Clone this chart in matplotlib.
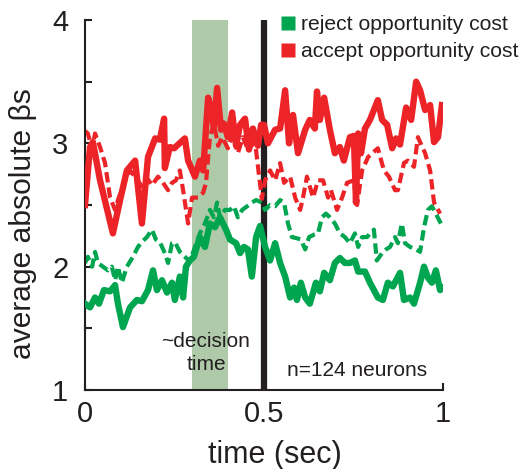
import matplotlib
matplotlib.use("Agg")
import matplotlib.pyplot as plt
from matplotlib.lines import Line2D
from matplotlib.ticker import MultipleLocator, NullFormatter

plt.rcParams['font.family'] = ['Liberation Sans', 'DejaVu Sans']

# values
t_acc = [0.000, 0.014, 0.022, 0.042, 0.078, 0.098, 0.117, 0.140, 0.159, 0.176,
         0.196, 0.209, 0.221, 0.223, 0.237, 0.249, 0.279, 0.288, 0.307, 0.321,
         0.330, 0.344, 0.352, 0.360, 0.369, 0.380, 0.388, 0.399, 0.411, 0.422,
         0.433, 0.447, 0.458, 0.469, 0.483, 0.492, 0.500, 0.511, 0.531, 0.545,
         0.559, 0.570, 0.581, 0.595, 0.615, 0.628, 0.642, 0.648, 0.656, 0.668,
         0.684, 0.698, 0.712, 0.723, 0.740, 0.751, 0.757, 0.763, 0.771, 0.782,
         0.796, 0.818, 0.830, 0.844, 0.858, 0.869, 0.880, 0.897, 0.911, 0.925,
         0.936, 0.950, 0.964, 0.975, 0.986, 0.997]
acc_solid = [2.50, 2.97, 3.01, 2.70, 2.27, 2.54, 2.78, 2.86, 2.35, 2.89,
             3.04, 3.03, 3.20, 2.80, 2.97, 2.96, 3.04, 2.86, 2.73, 2.86,
             2.78, 3.37, 3.29, 3.13, 3.45, 3.11, 3.16, 3.05, 3.25, 2.98,
             3.15, 3.20, 2.95, 3.12, 2.98, 3.15, 3.15, 3.00, 3.11, 3.12,
             3.43, 3.00, 3.23, 2.92, 3.11, 3.19, 3.12, 3.42, 3.19, 3.37,
             3.11, 2.92, 2.97, 2.86, 3.05, 3.06, 2.52, 3.08, 2.92, 3.12,
             3.19, 3.35, 3.19, 3.15, 2.96, 3.04, 2.99, 3.29, 3.19, 3.50,
             3.43, 3.27, 3.31, 3.01, 3.05, 3.31]

t_acc_d = [0.000, 0.008, 0.020, 0.028, 0.042, 0.056, 0.070, 0.084, 0.092, 0.109,
           0.126, 0.142, 0.159, 0.173, 0.187, 0.204, 0.218, 0.232, 0.243, 0.254,
           0.265, 0.274, 0.288, 0.299, 0.316, 0.330, 0.338, 0.349, 0.360, 0.372,
           0.383, 0.399, 0.413, 0.427, 0.441, 0.455, 0.475, 0.494, 0.503, 0.517,
           0.531, 0.545, 0.556, 0.573, 0.587, 0.601, 0.609, 0.620, 0.637, 0.651,
           0.665, 0.679, 0.687, 0.704, 0.718, 0.732, 0.751, 0.760, 0.774, 0.791,
           0.818, 0.835, 0.849, 0.866, 0.874, 0.891, 0.902, 0.919, 0.930, 0.950,
           0.964, 0.975, 0.992]
acc_dash = [3.10, 3.08, 2.95, 3.08, 2.97, 2.84, 2.56, 2.46, 2.54, 2.68,
            2.78, 2.72, 2.65, 2.72, 2.66, 2.73, 2.68, 2.62, 2.68, 2.70,
            2.78, 2.62, 2.35, 2.56, 2.56, 2.60, 2.68, 3.05, 3.16, 2.98,
            3.05, 2.96, 3.08, 2.92, 3.05, 2.95, 3.01, 2.55, 2.70, 2.78,
            2.70, 2.84, 2.68, 2.73, 2.56, 2.46, 2.56, 2.73, 2.56, 2.70,
            2.70, 2.56, 2.62, 2.46, 2.56, 2.68, 2.70, 2.50, 2.78, 2.89,
            2.96, 2.78, 2.73, 2.62, 2.62, 2.84, 2.86, 2.81, 3.05, 2.92,
            2.78, 2.52, 2.43]

t_rej = [0.000, 0.014, 0.028, 0.039, 0.053, 0.070, 0.084, 0.092, 0.106, 0.126,
         0.145, 0.159, 0.176, 0.190, 0.201, 0.215, 0.229, 0.243, 0.251, 0.265,
         0.274, 0.282, 0.293, 0.304, 0.321, 0.335, 0.349, 0.363, 0.377, 0.394,
         0.405, 0.422, 0.433, 0.444, 0.455, 0.466, 0.478, 0.489, 0.503, 0.517,
         0.531, 0.545, 0.559, 0.573, 0.584, 0.592, 0.603, 0.615, 0.628, 0.645,
         0.656, 0.668, 0.684, 0.698, 0.712, 0.726, 0.740, 0.754, 0.763, 0.782,
         0.796, 0.818, 0.832, 0.846, 0.860, 0.880, 0.891, 0.908, 0.919, 0.936,
         0.947, 0.958, 0.969, 0.980, 0.992, 0.997]
rej_solid = [1.70, 1.67, 1.75, 1.70, 1.81, 1.80, 1.85, 1.70, 1.51, 1.67,
             1.73, 1.72, 1.81, 1.97, 1.81, 1.89, 1.79, 1.87, 1.73, 1.92,
             1.75, 2.00, 2.05, 2.08, 2.24, 2.16, 2.35, 2.32, 2.40, 2.30,
             2.22, 2.19, 2.11, 2.16, 2.14, 1.92, 2.24, 2.33, 2.16, 2.05,
             2.19, 2.03, 1.92, 1.75, 1.83, 1.73, 1.87, 1.75, 1.70, 1.87,
             1.80, 1.95, 1.89, 2.03, 2.07, 2.03, 2.03, 2.05, 1.96, 1.96,
             1.87, 1.75, 1.73, 1.87, 1.84, 1.95, 1.73, 1.75, 1.70, 1.87,
             2.00, 1.91, 1.87, 1.97, 1.81, 1.83]

t_rej_d = [0.000, 0.008, 0.020, 0.028, 0.036, 0.050, 0.064, 0.075, 0.084, 0.092,
           0.103, 0.117, 0.134, 0.148, 0.159, 0.173, 0.187, 0.198, 0.209, 0.223,
           0.232, 0.243, 0.251, 0.265, 0.279, 0.293, 0.307, 0.321, 0.335, 0.349,
           0.360, 0.369, 0.377, 0.391, 0.405, 0.416, 0.427, 0.439, 0.453, 0.466,
           0.478, 0.494, 0.503, 0.517, 0.531, 0.545, 0.556, 0.567, 0.578, 0.592,
           0.603, 0.615, 0.626, 0.640, 0.651, 0.662, 0.673, 0.684, 0.698, 0.712,
           0.726, 0.740, 0.754, 0.763, 0.774, 0.788, 0.796, 0.807, 0.815, 0.830,
           0.841, 0.852, 0.866, 0.874, 0.885, 0.894, 0.908, 0.925, 0.936, 0.947,
           0.958, 0.969, 0.980, 0.994]
rej_dash = [2.03, 2.08, 2.00, 2.12, 2.03, 2.00, 1.97, 2.00, 1.89, 2.00,
            1.87, 2.00, 2.08, 2.16, 2.20, 2.24, 2.30, 2.22, 2.20, 2.11,
            2.03, 2.19, 2.20, 2.12, 2.08, 2.04, 2.16, 2.27, 2.35, 2.46,
            2.40, 2.52, 2.40, 2.46, 2.46, 2.49, 2.40, 2.46, 2.49, 2.52,
            2.54, 2.52, 2.46, 2.50, 2.49, 2.54, 2.52, 2.35, 2.24, 2.23,
            2.22, 2.14, 2.24, 2.26, 2.27, 2.40, 2.43, 2.40, 2.35, 2.27,
            2.24, 2.19, 2.27, 2.16, 2.24, 2.24, 2.27, 2.30, 2.05, 2.11,
            2.14, 2.16, 2.24, 2.19, 2.35, 2.19, 2.16, 2.14, 2.12, 2.32,
            2.46, 2.49, 2.43, 2.35]

decision_window = (0.30, 0.40)
labels = ['reject opportunity cost', 'accept opportunity cost']

red = '#ec2327'
green = '#00a54f'
ink = '#231f20'

fig = plt.figure(figsize=(5.22, 4.69), dpi=100)
ax = fig.add_axes([85/522, 1 - 390/469, 358/522, 370/469])

ax.axvspan(*decision_window, color='#aecaa9', lw=0, zorder=0)
ax.axvline(0.5, color=ink, lw=4.5, zorder=1)

ax.plot(t_rej_d, rej_dash, color=green, lw=3.0, dashes=(2.5, 1.2), zorder=2)
ax.plot(t_acc_d, acc_dash, color=red, lw=3.0, dashes=(2.5, 1.2), zorder=2)
ax.plot(t_rej, rej_solid, color=green, lw=4.6, zorder=3)
ax.plot(t_acc, acc_solid, color=red, lw=4.6, zorder=3)

ax.set_xlim(0, 1)
ax.set_ylim(1, 4)
ax.set_xticks([0, 0.5, 1])
ax.set_xticklabels(['0', '0.5', '1'])
ax.set_yticks([1, 2, 3, 4])
ax.yaxis.set_minor_locator(MultipleLocator(0.5))
ax.yaxis.set_minor_formatter(NullFormatter())
for s in ['top', 'right']:
    ax.spines[s].set_visible(False)
for s in ['left', 'bottom']:
    ax.spines[s].set_linewidth(1.5)
    ax.spines[s].set_color(ink)
ax.tick_params(axis='both', which='both', direction='in', length=5, width=1.5,
               color=ink, labelcolor=ink, labelsize=21)
ax.tick_params(axis='y', pad=12)
ax.tick_params(axis='x', pad=7)

ax.set_xlabel('time (sec)', fontsize=22, color=ink)
ax.xaxis.set_label_coords(0.531, -0.135)
ax.set_ylabel('average absolute βs', fontsize=21.6, color=ink)
ax.yaxis.set_label_coords(-0.134, 0.451)

ax.text(0.338, 0.10, '~decision\ntime', transform=ax.transAxes, ha='center',
        va='center', fontsize=15, color=ink, linespacing=1.3)
ax.text(0.76, 0.054, 'n=124 neurons', transform=ax.transAxes, ha='center',
        va='center', fontsize=15, color=ink)

handles = [Line2D([], [], ls='none', marker='s', ms=10.5, color=green, mec='none'),
           Line2D([], [], ls='none', marker='s', ms=10.5, color=red, mec='none')]
fig.legend(handles, labels, loc='upper left', bbox_to_anchor=(280/522, 1 - 15/469),
           frameon=False, fontsize=15.2, handlelength=0.8, handletextpad=0.2,
           borderpad=0, borderaxespad=0, labelspacing=0.4, labelcolor=ink)

fig.savefig('out.png', dpi=100)
